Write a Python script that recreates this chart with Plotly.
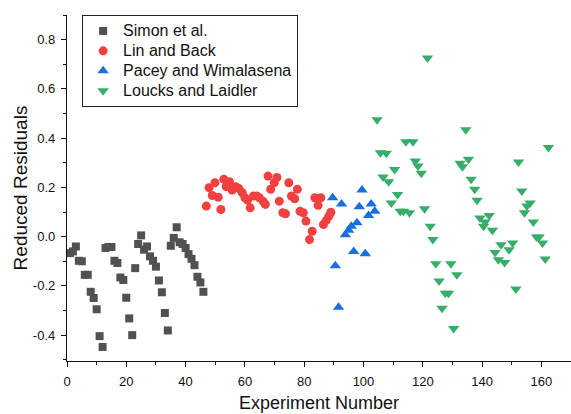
import plotly.graph_objects as go

# ---------------- data ----------------
simon_x = list(range(1, 47))
simon_y = [-0.067, -0.060, -0.040, -0.098, -0.100, -0.155, -0.155, -0.224, -0.249, -0.295,
           -0.404, -0.448, -0.046, -0.042, -0.042, -0.098, -0.107, -0.166, -0.176, -0.248,
           -0.332, -0.400, -0.128, -0.030, 0.005, -0.053, -0.040, -0.080, -0.098, -0.122,
           -0.178, -0.226, -0.310, -0.381, -0.037, -0.005, 0.038, -0.023, -0.030, -0.046,
           -0.071, -0.090, -0.116, -0.163, -0.186, -0.224]

lin_x = [47.0, 47.9, 49.0, 49.9, 51.0, 51.9, 52.9, 53.7, 54.8, 55.7, 56.9, 58.0, 59.1, 60.0,
         60.9, 61.8, 62.9, 64.0, 64.9, 66.1, 66.9, 67.8, 68.7, 69.9, 70.8, 71.6, 72.8, 73.7,
         74.8, 75.7, 76.8, 77.7, 78.6, 79.7, 80.6, 81.8, 82.7, 83.6, 84.7, 85.6, 86.5, 87.4,
         88.3, 89.0]
lin_y = [0.124, 0.199, 0.167, 0.219, 0.160, 0.110, 0.233, 0.203, 0.223, 0.189, 0.203, 0.195,
         0.178, 0.158, 0.148, 0.117, 0.165, 0.165, 0.158, 0.144, 0.131, 0.246, 0.192, 0.219,
         0.240, 0.144, 0.097, 0.093, 0.219, 0.165, 0.154, 0.192, 0.103, 0.097, 0.063, -0.012,
         0.022, 0.158, 0.127, 0.158, 0.049, 0.065, 0.083, 0.099]

pacey_x = [89.6, 90.5, 91.6, 92.6, 93.9, 95.0, 95.9, 96.7, 97.8, 98.6, 99.5, 100.6, 101.7,
           102.6, 103.8]
pacey_y = [0.158, -0.118, -0.287, 0.133, 0.008, 0.026, 0.042, -0.060, 0.056, 0.121, 0.189,
           -0.069, 0.086, 0.133, 0.103]

loucks_x = [104.6, 105.7, 106.6, 107.7, 108.5, 109.4, 110.5, 111.5, 112.4, 113.5, 114.3,
            115.5, 116.7, 117.5, 118.4, 119.5, 120.6, 121.6, 122.5, 123.4, 124.4, 125.5,
            126.5, 127.6, 128.7, 129.5, 130.4, 131.5, 132.6, 133.4, 134.5, 135.4, 136.3,
            137.5, 138.3, 139.3, 140.5, 141.0, 142.4, 143.5, 144.4, 145.5, 146.4, 147.6,
            149.1, 150.3, 151.4, 152.3, 153.4, 154.3, 155.1, 156.2, 157.3, 158.4, 159.2,
            160.4, 161.3, 162.4]
loucks_y = [0.475, 0.341, 0.242, 0.339, 0.223, 0.137, 0.273, 0.171, 0.103, 0.103, 0.385,
            0.097, 0.385, 0.307, 0.287, 0.257, 0.113, 0.725, 0.042, -0.012, -0.110, -0.180,
            -0.291, -0.230, -0.230, -0.110, -0.373, -0.155, 0.298, 0.284, 0.434, 0.314, 0.233,
            0.192, 0.148, 0.076, 0.042, 0.059, 0.086, 0.026, -0.064, -0.094, -0.033, -0.105,
            -0.053, -0.026, -0.213, 0.303, 0.185, 0.097, 0.124, 0.137, 0.059, -0.001, -0.001,
            -0.026, -0.091, 0.362]

y_tickvals = [-0.4, -0.2, 0.0, 0.2, 0.4, 0.6, 0.8]
y_ticktext = ["-0.4", "-0.2", "0.0", "0.2", "0.4", "0.6", "0.8"]
x_tickvals = [0, 20, 40, 60, 80, 100, 120, 140, 160]

series = [
    ("Simon et al.", simon_x, simon_y, "square", 8, "#515151"),
    ("Lin and Back", lin_x, lin_y, "circle", 9, "#F14040"),
    ("Pacey and Wimalasena", pacey_x, pacey_y, "triangle-up", 10, "#1A6FDF"),
    ("Loucks and Laidler", loucks_x, loucks_y, "triangle-down", 10, "#37AD6B"),
]

FONT = "Liberation Sans, Arial, Helvetica, sans-serif"

fig = go.Figure()
for name, xs, ys, sym, size, col in series:
    fig.add_trace(go.Scatter(
        x=xs, y=ys, mode="markers", name="<span style='font-size:16px'>%s</span>" % name,
        marker=dict(symbol=sym, size=size, color=col, line=dict(width=0)),
    ))

fig.update_layout(
    width=571, height=414,
    margin=dict(l=67, r=0, t=15, b=53),
    paper_bgcolor="white", plot_bgcolor="white",
    font=dict(family=FONT, color="#111111", size=13),
    showlegend=True,
    legend=dict(
        x=0.03, y=1.0, xanchor="left", yanchor="top",
        bordercolor="#222222", borderwidth=1, bgcolor="white",
        font=dict(family=FONT, size=13, color="#111111"),
        itemclick=False,
    ),
)

fig.update_xaxes(
    range=[0, 170], showgrid=False, zeroline=False,
    showline=True, linecolor="#111111", linewidth=1.3,
    ticks="outside", ticklen=5, tickwidth=1.3, tickcolor="#111111",
    tickvals=x_tickvals, ticklabelstandoff=3,
    minor=dict(ticks="outside", ticklen=3, tickwidth=1.1, tickcolor="#111111", dtick=10,
               showgrid=False),
    title=dict(text="Experiment Number", font=dict(size=18, family=FONT), standoff=8),
    tickfont=dict(size=13, family=FONT),
)
fig.update_yaxes(
    range=[-0.505, 0.9], showgrid=False, zeroline=False,
    showline=True, linecolor="#111111", linewidth=1.3,
    ticks="outside", ticklen=5, tickwidth=1.3, tickcolor="#111111",
    tickvals=y_tickvals, ticktext=y_ticktext, ticklabelstandoff=3,
    minor=dict(ticks="outside", ticklen=3, tickwidth=1.1, tickcolor="#111111", dtick=0.1,
               tick0=0, showgrid=False),
    title=dict(text="Reduced Residuals", font=dict(size=19, family=FONT), standoff=0),
    tickfont=dict(size=13, family=FONT),
)

fig.write_html("out.html")
